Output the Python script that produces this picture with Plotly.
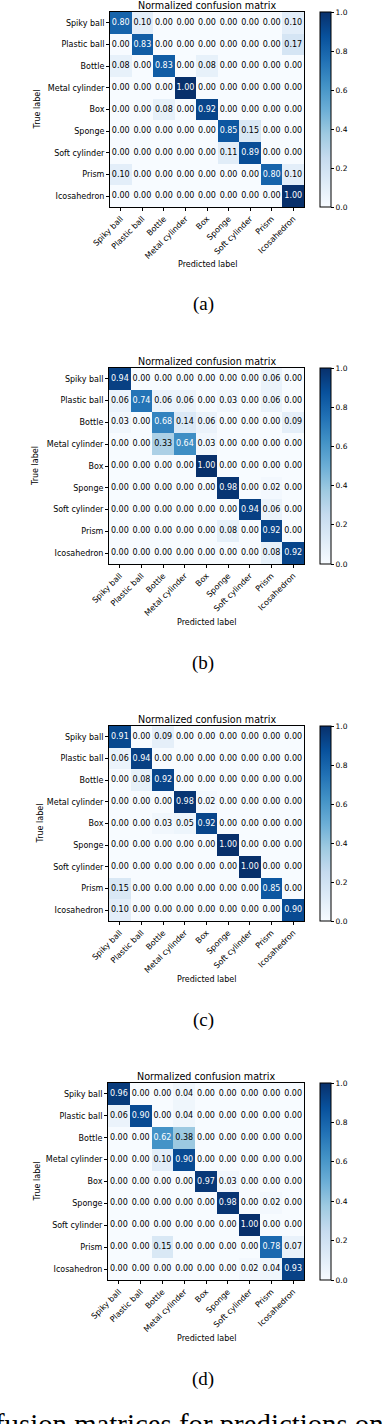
import plotly.graph_objects as go

labels = ["Spiky ball", "Plastic ball", "Bottle", "Metal cylinder", "Box",
          "Sponge", "Soft cylinder", "Prism", "Icosahedron"]

cm_a = [
    [0.80, 0.10, 0.00, 0.00, 0.00, 0.00, 0.00, 0.00, 0.10],
    [0.00, 0.83, 0.00, 0.00, 0.00, 0.00, 0.00, 0.00, 0.17],
    [0.08, 0.00, 0.83, 0.00, 0.08, 0.00, 0.00, 0.00, 0.00],
    [0.00, 0.00, 0.00, 1.00, 0.00, 0.00, 0.00, 0.00, 0.00],
    [0.00, 0.00, 0.08, 0.00, 0.92, 0.00, 0.00, 0.00, 0.00],
    [0.00, 0.00, 0.00, 0.00, 0.00, 0.85, 0.15, 0.00, 0.00],
    [0.00, 0.00, 0.00, 0.00, 0.00, 0.11, 0.89, 0.00, 0.00],
    [0.10, 0.00, 0.00, 0.00, 0.00, 0.00, 0.00, 0.80, 0.10],
    [0.00, 0.00, 0.00, 0.00, 0.00, 0.00, 0.00, 0.00, 1.00],
]

cm_b = [
    [0.94, 0.00, 0.00, 0.00, 0.00, 0.00, 0.00, 0.06, 0.00],
    [0.06, 0.74, 0.06, 0.06, 0.00, 0.03, 0.00, 0.06, 0.00],
    [0.03, 0.00, 0.68, 0.14, 0.06, 0.00, 0.00, 0.00, 0.09],
    [0.00, 0.00, 0.33, 0.64, 0.03, 0.00, 0.00, 0.00, 0.00],
    [0.00, 0.00, 0.00, 0.00, 1.00, 0.00, 0.00, 0.00, 0.00],
    [0.00, 0.00, 0.00, 0.00, 0.00, 0.98, 0.00, 0.02, 0.00],
    [0.00, 0.00, 0.00, 0.00, 0.00, 0.00, 0.94, 0.06, 0.00],
    [0.00, 0.00, 0.00, 0.00, 0.00, 0.08, 0.00, 0.92, 0.00],
    [0.00, 0.00, 0.00, 0.00, 0.00, 0.00, 0.00, 0.08, 0.92],
]

cm_c = [
    [0.91, 0.00, 0.09, 0.00, 0.00, 0.00, 0.00, 0.00, 0.00],
    [0.06, 0.94, 0.00, 0.00, 0.00, 0.00, 0.00, 0.00, 0.00],
    [0.00, 0.08, 0.92, 0.00, 0.00, 0.00, 0.00, 0.00, 0.00],
    [0.00, 0.00, 0.00, 0.98, 0.02, 0.00, 0.00, 0.00, 0.00],
    [0.00, 0.00, 0.03, 0.05, 0.92, 0.00, 0.00, 0.00, 0.00],
    [0.00, 0.00, 0.00, 0.00, 0.00, 1.00, 0.00, 0.00, 0.00],
    [0.00, 0.00, 0.00, 0.00, 0.00, 0.00, 1.00, 0.00, 0.00],
    [0.15, 0.00, 0.00, 0.00, 0.00, 0.00, 0.00, 0.85, 0.00],
    [0.10, 0.00, 0.00, 0.00, 0.00, 0.00, 0.00, 0.00, 0.90],
]

cm_d = [
    [0.96, 0.00, 0.00, 0.04, 0.00, 0.00, 0.00, 0.00, 0.00],
    [0.06, 0.90, 0.00, 0.04, 0.00, 0.00, 0.00, 0.00, 0.00],
    [0.00, 0.00, 0.62, 0.38, 0.00, 0.00, 0.00, 0.00, 0.00],
    [0.00, 0.00, 0.10, 0.90, 0.00, 0.00, 0.00, 0.00, 0.00],
    [0.00, 0.00, 0.00, 0.00, 0.97, 0.03, 0.00, 0.00, 0.00],
    [0.00, 0.00, 0.00, 0.00, 0.00, 0.98, 0.00, 0.02, 0.00],
    [0.00, 0.00, 0.00, 0.00, 0.00, 0.00, 1.00, 0.00, 0.00],
    [0.00, 0.00, 0.15, 0.00, 0.00, 0.00, 0.00, 0.78, 0.07],
    [0.00, 0.00, 0.00, 0.00, 0.00, 0.00, 0.02, 0.04, 0.93],
]

matrices = [cm_a, cm_b, cm_c, cm_d]
captions = ["(a)", "(b)", "(c)", "(d)"]
cbar_ticks = [0.0, 0.2, 0.4, 0.6, 0.8, 1.0]
caption_text = "fusion matrices for predictions on"

# ---- layout geometry (pixels) ----
W, H = 384, 1424
geom = [
    dict(left=110, right=304, top=12, bottom=207, ylab_x=37, cap_y=304),
    dict(left=109, right=304, top=368, bottom=564, ylab_x=35, cap_y=663),
    dict(left=109, right=304, top=726, bottom=921, ylab_x=40, cap_y=1020),
    dict(left=108, right=304, top=1083, bottom=1280, ylab_x=37, cap_y=1379),
]
CB_LEFT, CB_THICK = 320, 11

blues = ['rgb(247,251,255)', 'rgb(222,235,247)', 'rgb(198,219,239)',
         'rgb(158,202,225)', 'rgb(107,174,214)', 'rgb(66,146,198)',
         'rgb(33,113,181)', 'rgb(8,81,156)', 'rgb(8,48,107)']
FONT = "DejaVu Sans"
SERIF = "Liberation Serif"


def px_x(p):
    return p / W


def px_y(p):
    return 1 - p / H


fig = go.Figure()
annotations = []
n = len(labels)
idx = list(range(n))

for k, (cm, g, cap) in enumerate(zip(matrices, geom, captions), start=1):
    sx = "" if k == 1 else str(k)
    xref, yref = "x" + sx, "y" + sx
    fig.add_trace(go.Heatmap(
        z=cm, x=idx, y=idx, colorscale=blues, zmin=0, zmax=1,
        xaxis=xref, yaxis=yref, hoverinfo="skip",
        colorbar=dict(
            x=px_x(CB_LEFT), xanchor="left", xpad=0, ypad=0,
            y=px_y((g["top"] + g["bottom"]) / 2), yanchor="middle",
            len=g["bottom"] - g["top"], lenmode="pixels",
            thickness=CB_THICK, thicknessmode="pixels",
            outlinewidth=1, outlinecolor="black",
            ticks="outside", ticklen=3, tickcolor="black",
            tickvals=cbar_ticks, tickformat=".1f",
            tickfont=dict(size=7.5, family=FONT, color="black"),
        ),
    ))
    thresh = max(max(r) for r in cm) / 2
    xs, ys, txt, cols = [], [], [], []
    for i in range(n):
        for j in range(n):
            xs.append(j)
            ys.append(i)
            txt.append(f"{cm[i][j]:.2f}")
            cols.append("white" if cm[i][j] > thresh else "black")
    fig.add_trace(go.Scatter(
        x=xs, y=ys, mode="text", text=txt, xaxis=xref, yaxis=yref,
        textfont=dict(size=8, family=FONT, color=cols),
        showlegend=False, hoverinfo="skip",
    ))
    common = dict(showline=True, mirror=True, linecolor="black", linewidth=1,
                  ticks="outside", ticklen=3, tickcolor="black",
                  showgrid=False, zeroline=False, automargin=False,
                  tickvals=idx, ticktext=labels,
                  tickfont=dict(size=8, family=FONT, color="black"))
    fig.update_layout(**{
        "xaxis" + sx: dict(domain=[px_x(g["left"]), px_x(g["right"])],
                           anchor=yref, range=[-0.5, n - 0.5],
                           tickangle=-45, **common),
        "yaxis" + sx: dict(domain=[px_y(g["bottom"]), px_y(g["top"])],
                           anchor=xref, range=[n - 0.5, -0.5], **common),
    })
    cx = px_x((g["left"] + g["right"]) / 2)
    annotations += [
        dict(text="Normalized confusion matrix", x=cx, y=px_y(g["top"] - 7),
             xref="paper", yref="paper", showarrow=False,
             xanchor="center", yanchor="middle",
             font=dict(size=9.6, family=FONT, color="black")),
        dict(text="True label", x=px_x(g["ylab_x"]),
             y=px_y((g["top"] + g["bottom"]) / 2), textangle=-90,
             xref="paper", yref="paper", showarrow=False,
             xanchor="center", yanchor="middle",
             font=dict(size=8, family=FONT, color="black")),
        dict(text="Predicted label", x=cx, y=px_y(g["bottom"] + 58),
             xref="paper", yref="paper", showarrow=False,
             xanchor="center", yanchor="middle",
             font=dict(size=8, family=FONT, color="black")),
        dict(text=cap, x=px_x(203), y=px_y(g["cap_y"]),
             xref="paper", yref="paper", showarrow=False,
             xanchor="center", yanchor="middle",
             font=dict(size=19, family=SERIF, color="black")),
    ]

annotations.append(dict(
    text=caption_text, x=px_x(386), y=px_y(1406),
    xref="paper", yref="paper", showarrow=False,
    xanchor="right", yanchor="top",
    font=dict(size=28.8, family=SERIF, color="black")))

fig.update_layout(
    width=W, height=H, margin=dict(l=0, r=0, t=0, b=0, autoexpand=False),
    paper_bgcolor="white", plot_bgcolor="white",
    showlegend=False, annotations=annotations,
)

fig.write_html(
    "out.html",
    config={"displayModeBar": False},
    post_script="document.body.style.margin='0';"
                "document.body.style.overflow='hidden';",
)
